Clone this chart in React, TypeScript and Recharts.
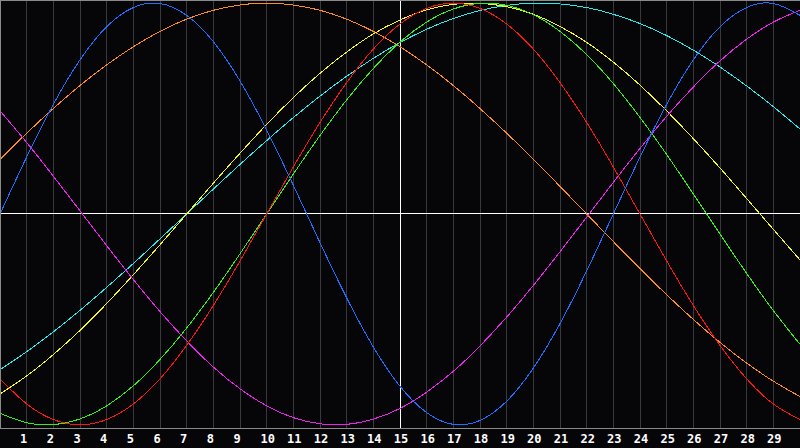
import { LineChart, Line, XAxis, YAxis, CartesianGrid, ReferenceLine } from 'recharts'

const days = [0, 1, 2, 3, 4, 5, 6, 7, 8, 9, 10, 11, 12, 13, 14, 15, 16, 17, 18, 19, 20, 21, 22, 23, 24, 25, 26, 27, 28, 29, 30]
const tickDays = [1, 2, 3, 4, 5, 6, 7, 8, 9, 10, 11, 12, 13, 14, 15, 16, 17, 18, 19, 20, 21, 22, 23, 24, 25, 26, 27, 28, 29]

const blue = [0, 27.0, 52.0, 73.1, 88.8, 97.9, 99.8, 94.2, 81.7, 63.1, 39.8, 13.6, -13.6, -39.8, -63.1, -81.7, -94.2, -99.8, -97.9, -88.8, -73.1, -52.0, -27.0, 0, 27.0, 52.0, 73.1, 88.8, 97.9, 99.8, 94.2]
const red = [-78.2, -90.1, -97.5, -100, -97.5, -90.1, -78.2, -62.3, -43.4, -22.3, 0, 22.3, 43.4, 62.3, 78.2, 90.1, 97.5, 100, 97.5, 90.1, 78.2, 62.3, 43.4, 22.3, 0, -22.3, -43.4, -62.3, -78.2, -90.1, -97.5]
const green = [-94.5, -99.0, -99.9, -97.2, -91.0, -81.5, -69.0, -54.1, -37.2, -18.9, 0, 18.9, 37.2, 54.1, 69.0, 81.5, 91.0, 97.2, 99.9, 99.0, 94.5, 86.6, 75.6, 61.8, 45.8, 28.2, 9.5, -9.5, -28.2, -45.8, -61.8]
const magenta = [48.9, 33.9, 17.9, 1.5, -15.0, -31.1, -46.3, -60.2, -72.6, -82.9, -91.0, -96.6, -99.5, -99.8, -97.3, -92.2, -84.5, -74.6, -62.6, -48.9, -33.9, -17.9, -1.5, 15.0, 31.1, 46.3, 60.2, 72.6, 82.9, 91.0, 96.6]
const yellow = [-85.4, -76.8, -66.7, -55.2, -42.5, -28.8, -14.6, 0, 14.6, 28.8, 42.5, 55.2, 66.7, 76.8, 85.4, 92.0, 96.8, 99.4, 99.9, 98.3, 94.7, 88.9, 81.4, 72.0, 61.1, 48.9, 35.7, 21.8, 7.3, -7.3, -21.8]
const orange = [25.9, 38.3, 50.0, 60.9, 70.7, 79.3, 86.6, 92.4, 96.6, 99.1, 100, 99.1, 96.6, 92.4, 86.6, 79.3, 70.7, 60.9, 50.0, 38.3, 25.9, 13.1, 0, -13.1, -25.9, -38.3, -50.0, -60.9, -70.7, -79.3, -86.6]
const cyan = [-73.8, -65.3, -55.9, -45.7, -34.8, -23.5, -11.8, 0, 11.8, 23.5, 34.8, 45.7, 55.9, 65.3, 73.8, 81.3, 87.6, 92.7, 96.5, 98.9, 100.0, 99.6, 97.9, 94.7, 90.3, 84.6, 77.7, 69.7, 60.7, 50.9, 40.3]

const data = days.map((day, i) => ({
  day,
  blue: blue[i],
  red: red[i],
  green: green[i],
  magenta: magenta[i],
  yellow: yellow[i],
  orange: orange[i],
  cyan: cyan[i],
}))

const series = [
  { key: 'orange', color: '#ff8a1e' },
  { key: 'cyan', color: '#22eef0' },
  { key: 'yellow', color: '#f6f622' },
  { key: 'magenta', color: '#f020f0' },
  { key: 'green', color: '#30f014' },
  { key: 'red', color: '#ff1414' },
  { key: 'blue', color: '#1e6eff' },
]

const DayTick = ({ x, payload }: any) => {
  const label = String(payload.value)
  const shift = label.length === 1 ? -3 : 1
  return (
    <text
      x={x + shift}
      y={443}
      fill="#ffffff"
      fontSize={12}
      fontWeight="bold"
      fontFamily="DejaVu Sans Mono"
      textAnchor="middle"
    >
      {label}
    </text>
  )
}

export default function App() {
  return (
    <div
      style={{
        position: 'absolute',
        left: 0,
        top: 0,
        width: 800,
        height: 448,
        background: '#060609',
        shapeRendering: 'crispEdges',
      }}
    >
      <LineChart width={800} height={448} data={data} margin={{ top: 1, right: 0, bottom: 0, left: 0 }}>
        <CartesianGrid horizontal={false} stroke="#3a3a3e" />
        <XAxis
          dataKey="day"
          type="number"
          domain={[0, 30]}
          ticks={tickDays}
          interval={0}
          height={20}
          tickLine={false}
          axisLine={{ stroke: '#8a8a8a' }}
          tick={<DayTick />}
        />
        <YAxis hide domain={[-101.5, 101]} />
        <ReferenceLine x={15} stroke="#ffffff" />
        <ReferenceLine y={0} stroke="#ffffff" />
        {series.map((s) => (
          <Line
            key={s.key}
            type="natural"
            dataKey={s.key}
            stroke={s.color}
            strokeWidth={1}
            dot={false}
            activeDot={false}
            isAnimationActive={false}
          />
        ))}
      </LineChart>
      <div style={{ position: 'absolute', left: 0, top: 0, width: 800, height: 1, background: '#8a8a8a' }} />
      <div style={{ position: 'absolute', left: 0, top: 0, width: 1, height: 428, background: '#8a8a8a' }} />
    </div>
  )
}
